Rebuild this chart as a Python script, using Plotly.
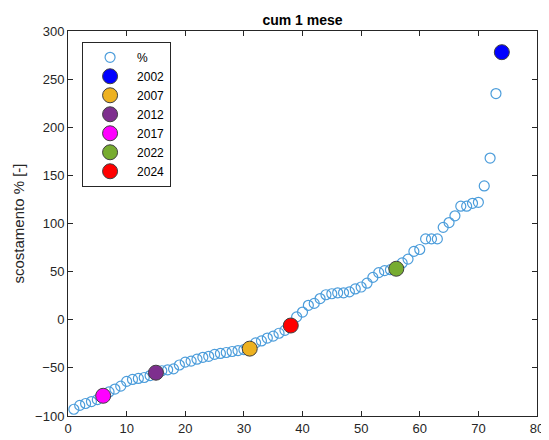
import plotly.graph_objects as go

rank = list(range(1, 75))
values = [-93, -89, -87, -85, -83, -79, -75, -72, -69, -64,
          -62, -61, -60, -58, -55, -53, -52, -51, -47, -44,
          -43, -41, -39, -38, -36, -35, -34, -33, -32, -31,
          -30, -24, -22, -19, -17, -14, -11, -6, 3, 8,
          15, 17, 22, 26, 27, 28, 28, 29, 32, 34,
          38, 44, 49, 51, 52, 53, 59, 63, 71, 73,
          84, 84, 84, 96, 101, 108, 118, 118, 121, 122,
          139, 168, 235, 278]

years = ["2002", "2007", "2012", "2017", "2022", "2024"]
year_rank = [74, 31, 15, 6, 56, 38]
year_colors = ["#0000FF", "#EDB120", "#7E2F8E", "#FF00FF", "#77AC30", "#FF0000"]

FONT = "Liberation Sans, Arial, sans-serif"

fig = go.Figure()
fig.add_trace(go.Scatter(
    x=rank, y=values, mode="markers", name="%",
    marker=dict(symbol="circle-open", size=10, color="#4C9DDB",
                line=dict(width=1.2, color="#4C9DDB")),
))
for yr, r, c in zip(years, year_rank, year_colors):
    fig.add_trace(go.Scatter(
        x=[r], y=[values[r - 1]], mode="markers", name=yr,
        marker=dict(symbol="circle", size=15, color=c,
                    line=dict(width=1, color="#404040")),
    ))

axis_common = dict(
    showgrid=False, zeroline=False, showline=True, linecolor="#262626",
    linewidth=1, mirror="ticks", ticks="inside", ticklen=5, tickcolor="#262626",
    automargin=False,
    tickfont=dict(family=FONT, size=13, color="#262626"),
)
fig.update_xaxes(range=[0, 80], tick0=0, dtick=10, **axis_common)
fig.update_yaxes(range=[-100, 300], tick0=-100, dtick=50,
                 title=dict(text="scostamento % [-]", standoff=6,
                            font=dict(family=FONT, size=15, color="#262626")),
                 **axis_common)

# The page body adds an 8px offset, so the figure is sized to fit the window.
fig.update_layout(
    width=541, height=432,
    margin=dict(l=60, r=12, t=23, b=24),
    paper_bgcolor="white", plot_bgcolor="white",
    title=dict(text="<b>cum 1 mese</b>", x=0.5, xref="paper", xanchor="center",
               y=1 - 12 / 432, yref="container", yanchor="middle", automargin=False,
               font=dict(family=FONT, size=14, color="#000000")),
    legend=dict(x=0.03, y=0.972, xanchor="left", yanchor="top",
                bgcolor="white", bordercolor="#262626", borderwidth=1,
                font=dict(family=FONT, size=12, color="#000000"),
                itemwidth=44, tracegroupgap=0),
    showlegend=True,
)

fig.write_html("out.html")
